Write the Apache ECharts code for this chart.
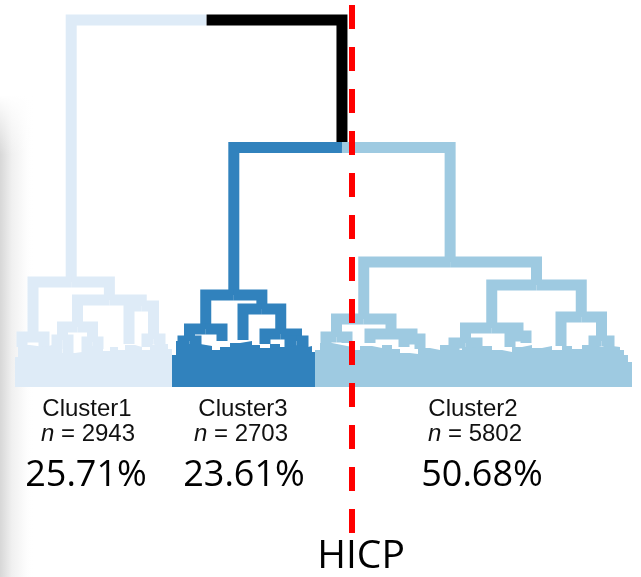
<!DOCTYPE html>
<html>
<head>
<meta charset="utf-8">
<script src="https://cdn.jsdelivr.net/npm/echarts@6/dist/echarts.min.js"></script>
<style>
  html, body { margin: 0; padding: 0; background: #fff; }
  #chart { width: 641px; height: 577px; }
</style>
</head>
<body>
<div id="chart"></div>
<script>
// cluster summary
const clusterNames = ['Cluster1', 'Cluster3', 'Cluster2']
const clusterSizes = [2943, 2703, 5802]
const clusterShares = ['25.71%', '23.61%', '50.68%']
const cutName = 'HICP'
const cutX = 352

// leaf groups of the dendrogram: [id, leaf position, height]
const leafNodes = [
  ['c1a', 22, 40], ['c1b', 44, 40], ['c1c', 57, 38], ['c1d', 68, 34], ['c1f', 87, 35],
  ['c1g', 98, 38], ['c1i', 129, 43], ['c1j', 147, 40], ['c1k', 160, 38],
  ['c3a', 183, 38], ['c3b', 196, 40], ['c3c', 222, 46], ['c3d', 243, 47],
  ['c3e', 265, 43], ['c3f', 290, 40], ['c3g', 303, 40],
  ['c2a', 326, 41], ['c2b', 347, 44], ['c2c', 370, 44], ['c2d', 404, 40], ['c2e', 420, 38],
  ['c2f', 454, 37], ['c2g', 477, 38], ['c2h', 510, 40], ['c2i', 526, 44], ['c2j', 561, 41],
  ['c2k', 594, 40], ['c2l', 609, 40]
]

// merges: [id, left child, right child, merge height]
const mergeNodes = [
  ['c1A', 'c1a', 'c1b', 50],
  ['c1E', 'c1c', 'c1d', 47],
  ['c1H', 'c1f', 'c1g', 45],
  ['c1B1', 'c1E', 'c1H', 60],
  ['c1L', 'c1j', 'c1k', 48],
  ['c1B2', 'c1i', 'c1L', 81],
  ['c1B', 'c1B1', 'c1B2', 87],
  ['c1', 'c1A', 'c1B', 105],
  ['c3P1', 'c3a', 'c3b', 46],
  ['c3P', 'c3P1', 'c3c', 58],
  ['c3Q2b', 'c3f', 'c3g', 46],
  ['c3Q2', 'c3e', 'c3Q2b', 53],
  ['c3Q', 'c3d', 'c3Q2', 78],
  ['c3', 'c3P', 'c3Q', 92],
  ['c2L1', 'c2a', 'c2b', 50],
  ['c2L2b', 'c2d', 'c2e', 48],
  ['c2L2', 'c2c', 'c2L2b', 53],
  ['c2L', 'c2L1', 'c2L2', 68],
  ['c2R1a', 'c2f', 'c2g', 44],
  ['c2R1b', 'c2h', 'c2i', 51],
  ['c2R1', 'c2R1a', 'c2R1b', 59],
  ['c2R2b', 'c2k', 'c2l', 46],
  ['c2R2', 'c2j', 'c2R2b', 70],
  ['c2R', 'c2R1', 'c2R2', 102],
  ['c2', 'c2L', 'c2R', 125],
  ['c23', 'c3', 'c2', 239.5],
  ['root', 'c1', 'c23', 367]
]

// outline of the dense leaf mass under each cluster: [position, height]
const mass1 = [[15, 30], [18, 42], [30, 40], [45, 42], [52, 38], [62, 34], [75, 35], [82, 38], [92, 41],
  [103, 36], [110, 40], [118, 37], [125, 42], [135, 40], [142, 37], [150, 42], [158, 39], [164, 43],
  [168, 38], [172, 38]]
const mass3 = [[172, 32], [176, 46], [186, 43], [200, 41], [212, 37], [220, 40], [230, 44], [240, 46],
  [252, 42], [260, 39], [270, 43], [280, 40], [288, 42], [298, 40], [308, 41], [312, 35], [317, 35]]
const mass2 = [[315, 37], [320, 44], [332, 42], [342, 40], [352, 37], [360, 41], [372, 39], [382, 42],
  [392, 38], [400, 34], [410, 33], [418, 39], [430, 37], [440, 42], [450, 37], [462, 40], [470, 38],
  [482, 41], [492, 37], [502, 35], [512, 40], [522, 42], [532, 39], [542, 41], [552, 37], [562, 41],
  [572, 38], [582, 42], [592, 40], [602, 41], [612, 40], [620, 37], [624, 32], [628, 25], [632, 25]]

const colors = { c1: '#deebf7', c3: '#3182bd', c2: '#9ecae1', above: '#000000' }
const linkColor = (id) => (id === 'c23' ? colors.above : colors[id.slice(0, 2)])

// build the half-links (leg + half bar) from the merge list
const nodes = {}
leafNodes.forEach(([id, x, h]) => { nodes[id] = { x, h } })
const links = []
mergeNodes.forEach(([id, a, b, h]) => {
  const mid = (nodes[a].x + nodes[b].x) / 2
  nodes[id] = { x: mid, h }
  ;[a, b].forEach((c) => {
    links.push({ value: [nodes[c].x, nodes[c].h, h, mid], itemStyle: { color: linkColor(c) } })
  })
})
// higher merges first so lower bars sit on top of the stems
links.sort((p, q) => q.value[2] - p.value[2])

const massSeries = (data, color) => ({
  type: 'line',
  step: 'end',
  data: data,
  symbol: 'none',
  silent: true,
  lineStyle: { width: 0 },
  areaStyle: { color: color, opacity: 1 }
})

const labelFont = 'Liberation Sans, Arial, sans-serif'
const bigFont = '"Open Sans", "Noto Sans", sans-serif'
const labelPos = [[87, 243, 473], [88, 241, 475], [86, 244, 482]]
const labelGraphics = []
clusterNames.forEach((name, i) => {
  labelGraphics.push({
    type: 'text', x: labelPos[0][i], y: 409,
    style: { text: name, font: '24px ' + labelFont, fill: '#111', align: 'center', verticalAlign: 'middle' }
  })
  labelGraphics.push({
    type: 'text', x: labelPos[1][i], y: 434,
    style: {
      text: '{i|n} = ' + clusterSizes[i],
      font: '24px ' + labelFont, fill: '#111', align: 'center', verticalAlign: 'middle',
      rich: { i: { fontStyle: 'italic', fontSize: 24, fontFamily: labelFont, fill: '#111' } }
    }
  })
  labelGraphics.push({
    type: 'text', x: labelPos[2][i], y: 476,
    style: { text: clusterShares[i], font: '36px ' + bigFont, fill: '#000', align: 'center', verticalAlign: 'middle' }
  })
})

const chart = echarts.init(document.getElementById('chart'))
chart.setOption({
  animation: false,
  backgroundColor: '#fff',
  grid: { left: 0, right: 0, top: 0, bottom: 0 },
  xAxis: { type: 'value', min: 0, max: 641, show: false },
  yAxis: { type: 'value', min: -190, max: 387, show: false },
  graphic: [
    {
      type: 'rect', z: -10, shape: { x: 0, y: 95, width: 34, height: 482 },
      style: {
        fill: new echarts.graphic.LinearGradient(0, 0, 1, 0, [
          { offset: 0, color: 'rgba(215,215,215,1)' },
          { offset: 0.1, color: 'rgba(222,222,222,1)' },
          { offset: 0.35, color: 'rgba(240,240,240,1)' },
          { offset: 0.65, color: 'rgba(249,249,249,1)' },
          { offset: 1, color: 'rgba(255,255,255,0)' }
        ])
      }
    },
    {
      type: 'rect', z: -9, shape: { x: 0, y: 95, width: 34, height: 60 },
      style: {
        fill: new echarts.graphic.LinearGradient(0, 0, 0, 1, [
          { offset: 0, color: 'rgba(255,255,255,1)' },
          { offset: 1, color: 'rgba(255,255,255,0)' }
        ])
      }
    },
    {
      type: 'text', x: 361, y: 557,
      style: { text: cutName, font: '39px ' + bigFont, fill: '#000', align: 'center', verticalAlign: 'middle' }
    }
  ].concat(labelGraphics),
  series: [
    massSeries(mass1, colors.c1),
    massSeries(mass3, colors.c3),
    massSeries(mass2, colors.c2),
    {
      type: 'custom',
      silent: true,
      data: links,
      encode: { x: [0, 3], y: [1, 2] },
      renderItem: (params, api) => {
        const p0 = api.coord([api.value(0), api.value(1)])
        const p1 = api.coord([api.value(0), api.value(2)])
        const p2 = api.coord([api.value(3), api.value(2)])
        return {
          type: 'polyline',
          shape: { points: [p0, p1, p2] },
          style: { stroke: api.visual('color'), lineWidth: 11, fill: null, lineJoin: 'miter', lineCap: 'butt' }
        }
      }
    },
    {
      type: 'line',
      data: [[cutX, 382], [cutX, -146]],
      symbol: 'none',
      silent: true,
      lineStyle: { color: '#ff0000', width: 6, type: [24, 18], cap: 'butt' }
    }
  ]
})
</script>
</body>
</html>
